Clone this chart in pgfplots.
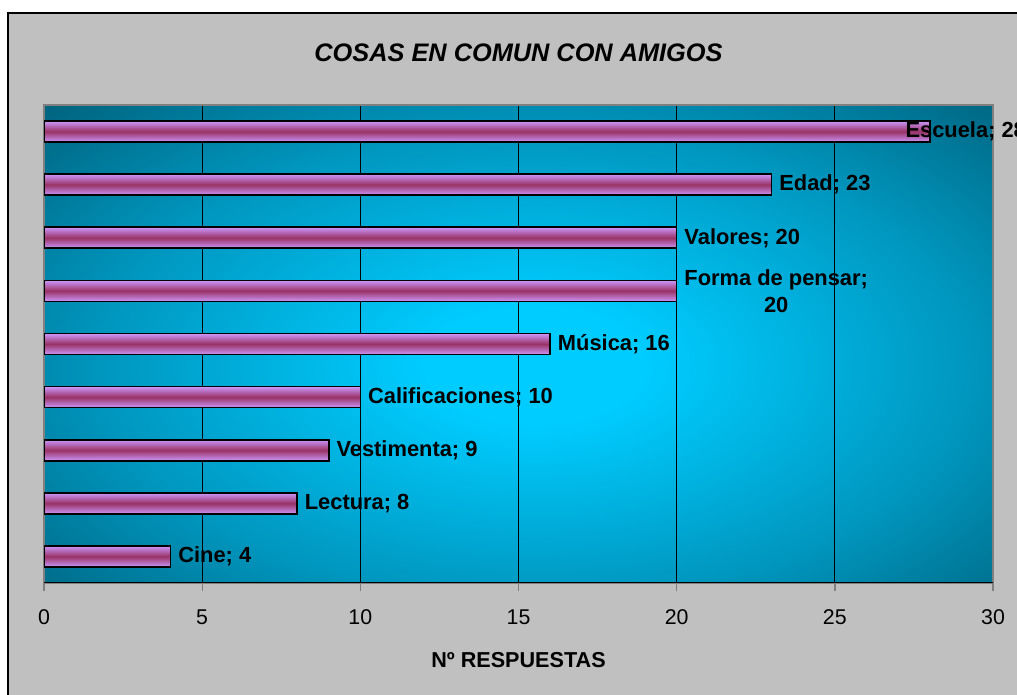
\documentclass[border=0pt]{standalone}
\usepackage{pgfplots}
\pgfplotsset{compat=1.18}
\usepackage{pgfplotstable}
\usepackage{fontspec}
\setmainfont{Liberation Sans}
\definecolor{framegray}{RGB}{192,192,192}
\definecolor{boxgray}{RGB}{128,128,128}
\definecolor{tealdark}{RGB}{0,94,120}
\definecolor{tealmid}{RGB}{0,150,190}
\definecolor{cyanbright}{RGB}{0,204,255}
\definecolor{barlight}{RGB}{204,150,250}
\definecolor{bardark}{RGB}{153,51,102}
\pgfdeclareradialshading{glow}{\pgfpoint{0bp}{0bp}}{color(0bp)=(cyanbright); color(5.5bp)=(cyanbright); color(22bp)=(tealmid); color(36bp)=(tealdark); color(50bp)=(tealdark)}

\pgfplotstableread[col sep=comma]{
pos,val,dx,label
1,4,5.25,{Cine; 4}
2,8,5.25,{Lectura; 8}
3,9,5.25,{Vestimenta; 9}
4,10,5.25,{Calificaciones; 10}
5,16,5.25,{Música; 16}
6,20,5.25,{Forma de pensar;\\20}
7,20,5.25,{Valores; 20}
8,23,5.25,{Edad; 23}
9,28,-18.75,{Escuela; 28}
}\datatable

\pgfplotsset{barstyle/.style={xbar, bar width=15.75pt, bar shift=0pt, draw=black, line width=1.2pt,
  shade, top color=barlight, bottom color=barlight, middle color=bardark,
  point meta=explicit symbolic, nodes near coords,
  visualization depends on={\thisrow{dx} \as \dx},
  nodes near coords style={anchor=west, inner sep=0pt, xshift=\dx pt, align=center,
    font=\bfseries\fontsize{16.4}{20}\selectfont, text=black}}}

\begin{document}
\begin{tikzpicture}
\path[use as bounding box] (0,0) rectangle (762.75pt,521.25pt);
\clip (0,0) rectangle (762.75pt,521.25pt);
\fill[white] (0,0) rectangle (762.75pt,521.25pt);
\filldraw[fill=framegray, draw=black, line width=1.5pt] (6pt,-20pt) rectangle (800pt,511.5pt);
\begin{scope}
\clip (33pt,84pt) rectangle (744.75pt,442.5pt);
\shade[shading=glow] (29.25pt,47.5pt) rectangle (773.25pt,447.5pt);
\end{scope}
\begin{axis}[
  at={(33pt,84pt)}, anchor=south west,
  scale only axis, width=711.75pt, height=358.5pt,
  xmin=0, xmax=30, ymin=0.5, ymax=9.5,
  xtick={0,5,10,15,20,25,30}, ytick=\empty,
  xtick pos=left, tick align=outside, major tick length=6pt,
  xtick style={draw=boxgray, line width=1pt},
  xmajorgrids, grid style={black, line width=0.6pt},
  axis line style={draw=boxgray, line width=1.5pt},
  /pgf/number format/assume math mode=true,
  xticklabel style={font=\fontsize{16}{19}\selectfont, inner sep=0pt, anchor=north, text height=11.5pt, text depth=0pt, yshift=-13.5pt},
  xlabel={Nº RESPUESTAS},
  xlabel style={at={(axis description cs:0.5,0)}, anchor=center, yshift=-57.75pt, font=\bfseries\fontsize{16.2}{19}\selectfont},
  title={COSAS EN COMUN CON AMIGOS},
  title style={at={(axis description cs:0.5,1)}, anchor=center, yshift=33pt, font=\bfseries\itshape\fontsize{19}{23}\selectfont},
]
\pgfplotsinvokeforeach{0.8:1.2,1.8:2.2,2.8:3.2,3.8:4.2,4.8:5.2,5.8:6.2,6.8:7.2,7.8:8.2,8.8:9.2}{
\addplot[barstyle, restrict y to domain=#1]
  table[x=val, y=pos, meta=label]{\datatable};
}
\draw[black, line width=1pt] (rel axis cs:0,0) -- (rel axis cs:1,0);
\end{axis}
\end{tikzpicture}
\end{document}
